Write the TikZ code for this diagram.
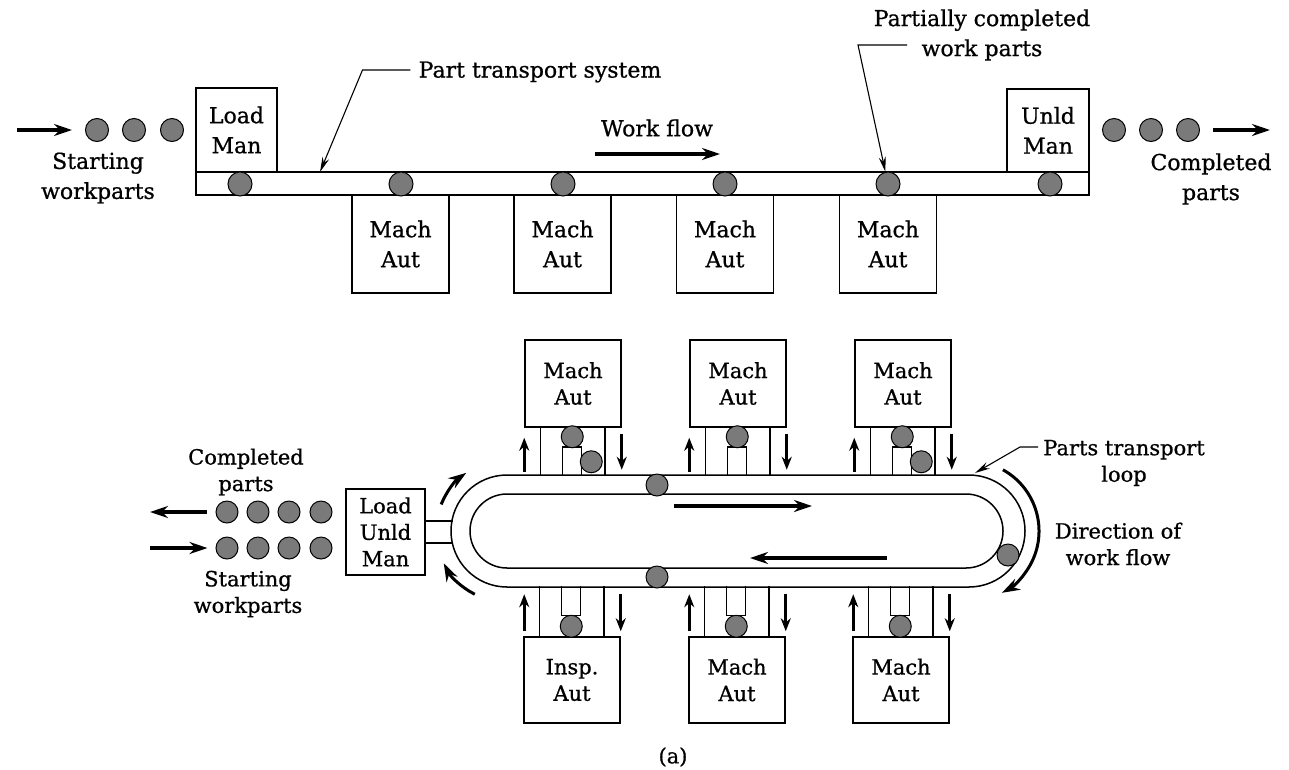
\documentclass[tikz,border=0pt]{standalone}
\usepackage{fontspec}
\setmainfont{DejaVu Serif}[FakeBold=0.8]
\usetikzlibrary{arrows.meta,calc}

\begin{document}
\begin{tikzpicture}[x=1pt,y=-1pt,
  box/.style={draw, line width=1.5pt, align=center, inner sep=0pt},
  txt/.style={align=center, inner sep=0pt},
  part/.style={circle, draw, line width=1pt, fill=black!52, minimum size=22pt, inner sep=0pt},
  flow/.style={line width=3.4pt, -{Stealth[length=18pt,width=12pt]}},
  small/.style={line width=3pt, -{Stealth[length=13pt,width=10pt]}},
  lead/.style={line width=1.1pt, -{Stealth[length=15pt,width=7pt]}},
  rail/.style={line width=1.5pt},
  bigfont/.style={font=\fontsize{22}{30}\selectfont},
  smallfont/.style={font=\fontsize{21}{26.5}\selectfont},
]
\useasboundingbox (0,0) rectangle (1289,769);

% ---------------- in-line transfer line ----------------
\node[draw, rail, minimum width=893pt, minimum height=23pt, inner sep=0pt] (conv) at (642.5,183.5) {};
\node[box, bigfont, minimum width=81pt, minimum height=84pt] (load) at (236.5,130) {Load\\Man};
\node[box, bigfont, minimum width=82pt, minimum height=83pt] (unld) at (1048,130.5) {Unld\\Man};
\foreach \n/\cx in {1/400.5,2/562.5,3/725,4/888}
  \node[box, bigfont, minimum width=97pt, minimum height=98pt] (m\n) at (\cx,244) {Mach\\Aut};

% parts on the conveyor
\foreach \n/\cx in {1/240,2/401,3/563,4/725,5/888,6/1050}
  \node[part, minimum size=24pt] (c\n) at (\cx,184) {};

% incoming and outgoing parts
\foreach \n/\cx in {1/97,2/134,3/172}
  \node[part, minimum size=23pt] (s\n) at (\cx,130) {};
\foreach \n/\cx in {1/1114,2/1151,3/1188}
  \node[part, minimum size=23pt] (e\n) at (\cx,130) {};
\coordinate (inL) at (17,130);
\coordinate (outR) at (1270,130);
\draw[flow, shorten >=13pt] (inL) -- (s1);
\draw[flow, shorten <=13pt] (e3) -- (outR);

\node[txt, bigfont] (startlbl) at (98,178) {Starting\\workparts};
\node[txt, bigfont] (donelbl) at (1211,179) {Completed\\parts};

% labels with leaders
\node[txt, bigfont] (ptslbl) at (540,72) {Part transport system};
\coordinate (ptsTip) at (320,172);
\draw[lead] ([xshift=-8pt,yshift=2pt]ptslbl.west) -- ++(-48,0) -- (ptsTip);

\node[txt, bigfont] (pclbl) at (982,35) {Partially completed\\work parts};
\coordinate (pcA) at (907,45);
\draw[lead] (pcA) -- (858,45) -- (c5);

\node[txt, bigfont] (wf) at (657,128) {Work flow};
\coordinate (wfA) at (595,154);
\coordinate (wfB) at (720,154);
\draw[flow] (wfA) -- (wfB);

% ---------------- closed-loop transfer system ----------------
\draw[rail, rounded corners=56pt] (451,475) rectangle (1025,587);
\draw[rail, rounded corners=37pt] (470,494) rectangle (1003,568);
\coordinate (lc) at (507,531);
\coordinate (rc) at (969,531);

\node[box, smallfont, minimum width=79pt, minimum height=86pt] (lum) at (385.5,532) {Load\\Unld\\Man};
\draw[rail] ($(lum.east)+(0,-11)$) -- ++(27,0);
\draw[rail] ($(lum.east)+(0,11)$) -- ++(27,0);

% stations above the loop
\foreach \n/\L in {1/525,2/690,3/855}{
  \node[box, smallfont, minimum width=96pt, minimum height=87pt] (t\n) at (\L+48,383.5) {Mach\\Aut};
  \draw[rail] ($(t\n.south west)+(16,0)$) -- ++(0,48);
  \draw[rail] ($(t\n.south east)+(-17,0)$) -- ++(0,48);
  \draw[rail] ($(t\n.south west)+(38,48)$) -- ++(0,-29) -- ++(19,0) -- ++(0,29);
  \node[part] (tp\n) at ($(t\n.south west)+(48,9)$) {};
  \draw[small] ($(t\n.south west)+(0,44)$) -- ++(0,-34);
  \draw[small] ($(t\n.south east)+(0,6)$) -- ++(0,36);
}
\node[part] (tq1) at ($(t1.south west)+(67,34)$) {};
\node[part] (tq3) at ($(t3.south west)+(67,34)$) {};

% stations below the loop
\foreach \n/\L/\lbl in {1/524/Insp.,2/689/Mach,3/853/Mach}{
  \node[box, smallfont, minimum width=96pt, minimum height=86pt] (b\n) at (\L+48,680) {\lbl\\Aut};
  \draw[rail] ($(b\n.north west)+(16,0)$) -- ++(0,-50);
  \draw[rail] ($(b\n.north east)+(-17,0)$) -- ++(0,-50);
  \draw[rail] ($(b\n.north west)+(38,-50)$) -- ++(0,29) -- ++(19,0) -- ++(0,-29);
  \node[part] (bp\n) at ($(b\n.north west)+(48,-10)$) {};
  \draw[small] ($(b\n.north west)+(1,-5)$) -- ++(0,-37);
  \draw[small] ($(b\n.north east)+(0,-42)$) -- ++(0,37);
}

% parts travelling on the loop
\node[part] (lp1) at (657,485) {};
\node[part] (lp2) at (657,577) {};
\node[part] (lp3) at (1008,555) {};

% flow arrows inside and around the loop
\coordinate (ia) at (674,506);
\coordinate (ib) at (812,506);
\coordinate (ic) at (887,558);
\coordinate (id) at (750,558);
\draw[flow] (ia) -- (ib);
\draw[flow] (ic) -- (id);
\draw[flow, line width=3pt] (lc) ++(158:71pt) arc[start angle=158, end angle=125, radius=71pt];
\draw[flow, line width=3pt] (lc) ++(243:71pt) arc[start angle=243, end angle=207, radius=71pt];
\draw[flow, line width=3pt] (rc) ++(61:70pt) arc[start angle=61, end angle=-62, radius=70pt];

% parts waiting at the load/unload station
\foreach \n/\cx in {1/227,2/258,3/289,4/321}{
  \node[part] (o\n) at (\cx,512) {};
  \node[part] (i\n) at (\cx,548) {};
}
\coordinate (outL) at (150,512);
\coordinate (inL2) at (150,548);
\draw[flow, shorten <=9pt] (o1) -- (outL);
\draw[flow, shorten >=8pt] (inL2) -- (i1);

\node[txt, smallfont] (donelbl2) at (246,472) {Completed\\parts};
\node[txt, smallfont] (startlbl2) at (248,594) {Starting\\workparts};

\node[txt, smallfont] (ptl) at (1124,463) {Parts transport\\loop};
\coordinate (ptlTip) at (975,473);
\draw[lead] (1038,447) -- (1020,447) -- (ptlTip);

\node[txt, smallfont] (dirlbl) at (1118,544) {Direction of\\work flow};
\node[txt, smallfont] (cap) at (673,757) {(a)};
\end{tikzpicture}
\end{document}
